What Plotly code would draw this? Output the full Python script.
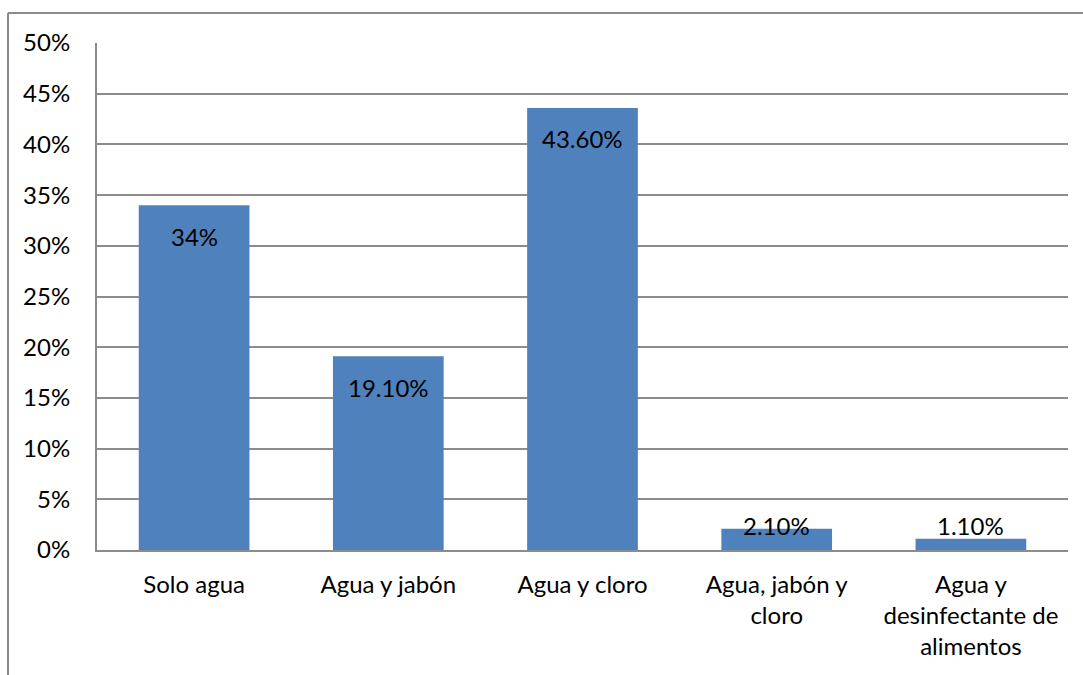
import plotly.graph_objects as go

# Métodos de lavado de frutas y verduras
categories = [
    "Solo agua",
    "Agua y jabón",
    "Agua y cloro",
    "Agua, jabón y<br>cloro",
    "Agua y<br>desinfectante de<br>alimentos",
]
values = [0.34, 0.191, 0.436, 0.021, 0.011]
labels = ["34%", "19.10%", "43.60%", "2.10%", "1.10%"]

W, H = 1083, 675
ML, MR, MT, MB = 97, 15, 43, 125
FONT = "Lato"
FS = 24
GRID = "#8c8c8c"

fig = go.Figure()
fig.add_trace(go.Bar(
    x=categories, y=values,
    marker=dict(color="#4F81BD", line=dict(width=0)),
    width=0.57,
    hoverinfo="skip",
))

# Etiquetas de datos: dentro del extremo de la barra, o sobre la base si la barra es baja
for c, v, t in zip(categories, values, labels):
    if v < 0.04:
        fig.add_annotation(x=c, y=0, text=t, showarrow=False,
                           yanchor="middle", yshift=25,
                           font=dict(family=FONT, size=FS, color="#000"))
    else:
        fig.add_annotation(x=c, y=v, text=t, showarrow=False,
                           yanchor="middle", yshift=-31,
                           font=dict(family=FONT, size=FS, color="#000"))

pw = W - ML - MR
ph = H - MT - MB
fx = lambda px: (px - ML) / pw
fy = lambda py: (H - MB - py) / ph

# Marco exterior del gráfico (bordes superior e izquierdo)
fig.add_shape(type="line", xref="paper", yref="paper",
              x0=fx(8), x1=fx(W + 5), y0=fy(13), y1=fy(13),
              line=dict(color="#8a8a8a", width=2))
fig.add_shape(type="line", xref="paper", yref="paper",
              x0=fx(8), x1=fx(8), y0=fy(13), y1=fy(H + 5),
              line=dict(color="#8a8a8a", width=2))

fig.update_layout(
    width=W, height=H,
    margin=dict(l=ML, r=MR, t=MT, b=MB, pad=0),
    paper_bgcolor="white", plot_bgcolor="white",
    showlegend=False,
    font=dict(family=FONT, size=FS, color="#000"),
    bargap=0.43,
)
fig.update_xaxes(
    showline=True, linecolor=GRID, linewidth=2,
    ticks="", tickangle=0, ticklabelstandoff=12,
    tickfont=dict(family=FONT, size=FS),
)
fig.update_yaxes(
    range=[0, 0.5], dtick=0.05, tickformat=".0%",
    showgrid=True, gridcolor=GRID, gridwidth=2,
    showline=True, linecolor=GRID, linewidth=2,
    zeroline=False, ticks="", ticklabelstandoff=20,
    tickfont=dict(family=FONT, size=FS),
)

fig.write_html("out.html")
